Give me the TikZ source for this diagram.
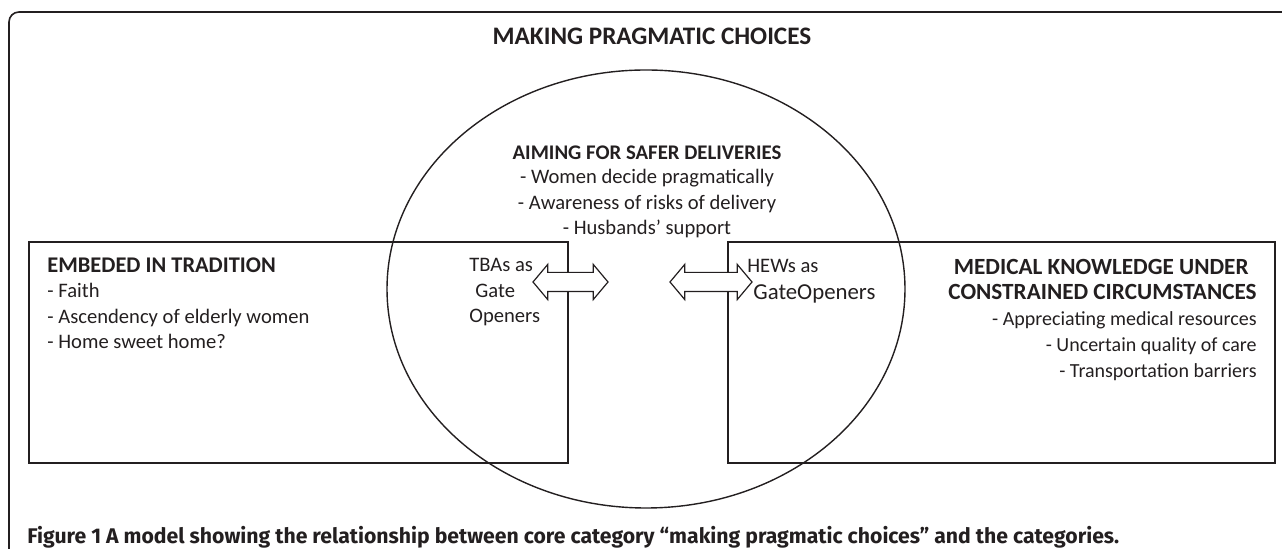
\documentclass[tikz,border=0pt]{standalone}
\usepackage{fontspec}
\setmainfont{Carlito}
\newfontfamily\capfont{Fira Sans}
\usetikzlibrary{shapes.geometric,shapes.arrows}
\definecolor{ink}{HTML}{231F20}

\tikzset{
  frameline/.style={draw=ink, line width=0.8pt},
  boxline/.style={draw=ink, line width=0.7pt},
  heading/.style={font=\fontsize{11}{12.5}\selectfont\bfseries, text=ink, inner sep=0pt},
  bodytext/.style={font=\fontsize{10.3}{12.75}\selectfont, text=ink, inner sep=0pt},
  gatearrow/.style={double arrow, draw=ink, line width=0.6pt, fill=white,
    inner xsep=0pt, inner ysep=4.5pt, double arrow head extend=4pt,
    double arrow tip angle=100}
}

\begin{document}
\begin{tikzpicture}[x=0.5pt, y=-0.5pt]
\useasboundingbox (0,0) rectangle (1282,549);

% outer frame and core category
\draw [frameline, rounded corners=5pt] (9,549) -- (9,12) -- (1282,12);
\node [heading, font=\fontsize{12.6}{12.5}\selectfont\bfseries, anchor=base] (title) at (652,45) {MAKING PRAGMATIC CHOICES};

\node [ellipse, boxline, minimum width=259pt, minimum height=219pt, inner sep=0pt] (core) at (646,289) {};

% category boxes
\draw [boxline] (29,242) rectangle (568,463);
\draw [boxline] (728,242) rectangle (1275,463);

% aiming for safer deliveries (base = last line)
\node [heading, font=\fontsize{10.4}{12.5}\selectfont\bfseries, anchor=base] (safehead) at (647,160) {AIMING FOR SAFER DELIVERIES};
\node [bodytext, anchor=base, align=center] (safeitems) at (647,235)
  {- Women decide pragmatically\\- Awareness of risks of delivery\\- Husbands’ support};

% embeded in tradition
\node [heading, font=\fontsize{11.2}{12.5}\selectfont\bfseries, anchor=base west] (tradhead) at (47,273) {EMBEDED IN TRADITION};
\node [bodytext, anchor=base west, align=left] (traditems) at (47,349)
  {- Faith\\- Ascendency of elderly women\\- Home sweet home?};

% medical knowledge
\node [heading, font=\fontsize{11.6}{12.5}\selectfont\bfseries, anchor=base east, align=right] (medhead) at (1257,300)
  {MEDICAL KNOWLEDGE UNDER\hspace*{4pt}\\CONSTRAINED CIRCUMSTANCES};
\node [bodytext, font=\fontsize{10}{13}\selectfont, anchor=base east, align=right] (meditems) at (1257,378)
  {- Appreciating medical resources\\- Uncertain quality of care\\- Transportation barriers};

% gate openers
\node [bodytext, anchor=base west, align=left] (tbalabel) at (469,323)
  {TBAs as\\\hspace*{3pt}Gate\\Openers};
\node [bodytext, anchor=base west] (hewlabel) at (747,273) {HEWs as};
\node [bodytext, font=\fontsize{11.4}{12.5}\selectfont, anchor=base west] (hewgate) at (753,300) {GateOpeners};

\node [gatearrow, minimum height=37.5pt] (tbaarrow) at (570.5,282) {};
\node [gatearrow, minimum height=41pt] (hewarrow) at (711,282) {};

% caption
\node [anchor=base west, inner sep=0pt, text=ink, font=\capfont\bfseries\fontsize{10.6}{12}\selectfont] (caption) at (27,544)
  {Figure 1 A model showing the relationship between core category “making pragmatic choices” and the categories.};

\end{tikzpicture}
\end{document}
